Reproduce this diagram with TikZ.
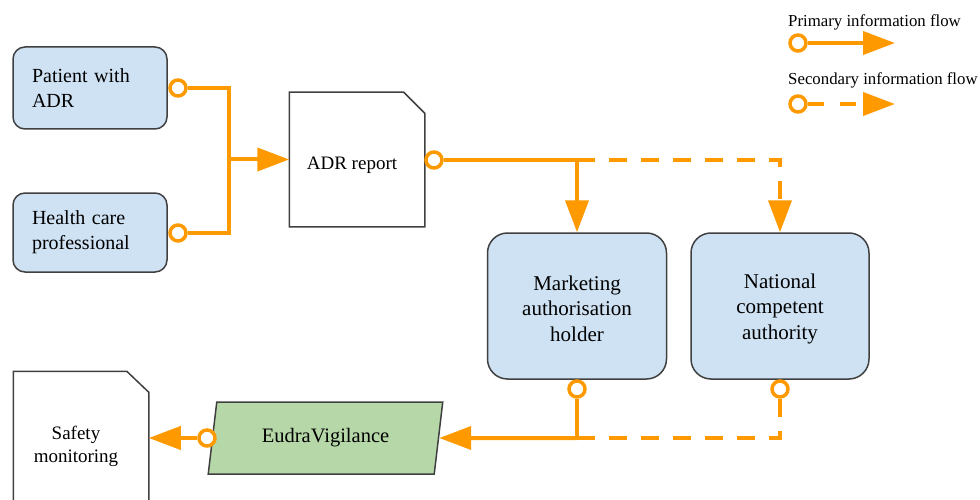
\documentclass[tikz,border=0pt]{standalone}
\usepackage{fontspec}
\setmainfont{Liberation Serif}
\usetikzlibrary{arrows.meta,shapes.geometric}
\definecolor{flowor}{HTML}{FF9900}
\definecolor{boxblue}{HTML}{CFE2F3}
\definecolor{boxgreen}{HTML}{B6D7A8}
\definecolor{edgegray}{HTML}{404040}
\begin{document}
\begin{tikzpicture}[x=1pt,y=-1pt,
  flow/.style={draw=flowor, line width=4pt},
  flowdash/.style={flow, dash pattern=on 18pt off 14pt},
  tip/.style={-{Triangle[length=32pt,width=23pt]}},
  dot/.style={circle, draw=flowor, line width=3.5pt, fill=white, minimum size=16pt, inner sep=0pt},
  actor/.style={rectangle, rounded corners=12pt, draw=edgegray, line width=1.5pt, fill=boxblue, inner sep=0pt},
  docarea/.style={rectangle, inner sep=0pt, outer sep=0.75pt},
  docline/.style={draw=edgegray, line width=1.5pt, fill=white, line join=miter},
  lbl/.style={font=\fontsize{16.8}{20}\selectfont, inner sep=0pt, anchor=west}
]
\useasboundingbox (0,0) rectangle (980,500);
\clip (0,0) rectangle (980,500);

% actors
\node[actor, minimum width=154pt, minimum height=82pt, text width=116pt, inner xsep=19pt, align=left, font=\fontsize{20}{25}\selectfont] (pat) at (90,88) {Patient with\\ADR};
\node[actor, minimum width=154pt, minimum height=79pt, text width=116pt, inner xsep=19pt, align=left, font=\fontsize{20}{25}\selectfont] (hcp) at (90,232.5) {Health care\\professional};
\node[actor, rounded corners=20pt, minimum width=179pt, minimum height=146pt, align=center, font=\fontsize{21}{25.5}\selectfont] (mah) at (577,306) {};
\node[align=center, inner sep=0pt, font=\fontsize{21}{25.5}\selectfont] (maht) at (577,308.5) {Marketing\\authorisation\\holder};
\node[actor, rounded corners=20pt, minimum width=178pt, minimum height=146pt, align=center, font=\fontsize{21}{25.5}\selectfont] (nca) at (780,306) {};
\node[align=center, inner sep=0pt, font=\fontsize{21}{25.5}\selectfont] (ncat) at (780,308.5) {National\\competent\\authority};

% documents (page with folded corner)
\node[docarea, minimum width=134pt, minimum height=133pt] (adr) at (357,159.5) {};
\draw[docline] (adr.south west) -- (adr.north west) -- ([xshift=-21pt]adr.north east) -- ([yshift=-21pt]adr.north east) -- (adr.south east) -- cycle;
\node[font=\fontsize{19}{23}\selectfont, inner sep=0pt] (adrt) at (352,165) {ADR report};
\node[docarea, minimum width=134pt, minimum height=148pt] (saf) at (81,446) {};
\draw[docline] (saf.south west) -- (saf.north west) -- ([xshift=-22pt]saf.north east) -- ([yshift=-21pt]saf.north east) -- (saf.south east) -- cycle;
\node[align=center, font=\fontsize{19}{23}\selectfont, inner sep=0pt] (saft) at (76,446) {Safety\\monitoring};

% database
\node[trapezium, trapezium left angle=75, trapezium right angle=105, trapezium stretches=true, minimum width=235pt, minimum height=72pt, draw=edgegray, line width=1.5pt, fill=boxgreen, inner sep=0pt, font=\fontsize{20.5}{24}\selectfont] (eud) at (325.5,438) {EudraVigilance};

% circles
\node[dot] (pc) at (178,88) {};
\node[dot] (hc) at (178,233) {};
\node[dot] (ac) at (434,160) {};
\node[dot] (mc) at (577,389) {};
\node[dot] (nc) at (780,389) {};
\node[dot] (ec) at (207,438) {};

% junctions
\coordinate (jm) at (229,159.5);
\coordinate (j2) at (577,160);
\coordinate (j3) at (577,438);

% connectors
\draw[flow] (pc.east) -| (jm) |- (hc.east);
\draw[flow,tip] (jm) -- (adr.west);
\draw[flow] (ac.east) -- (j2);
\draw[flow,tip] (j2) -- (mah.north);
\draw[flowdash,tip] (j2) -| (nca.north);
\draw[flow] (mc.south) -- (j3);
\draw[flow,tip] (j3) -- (eud.east);
\draw[flowdash] (nc.south) |- (j3);
\draw[flow,tip] (ec.west) -- (saf.east |- ec.west);

% legend
\node[lbl] (lp) at (788,22) {Primary information flow};
\node[dot] (ld1) at (798,43) {};
\coordinate (le1) at (895,43);
\draw[flow,tip] (ld1.east) -- (le1);
\node[lbl] (ls) at (788,80) {Secondary information flow};
\node[dot] (ld2) at (798,104) {};
\coordinate (le2) at (895,104);
\draw[flow, dash pattern=on 16pt off 16pt, tip] (ld2.east) -- (le2);
\end{tikzpicture}
\end{document}
